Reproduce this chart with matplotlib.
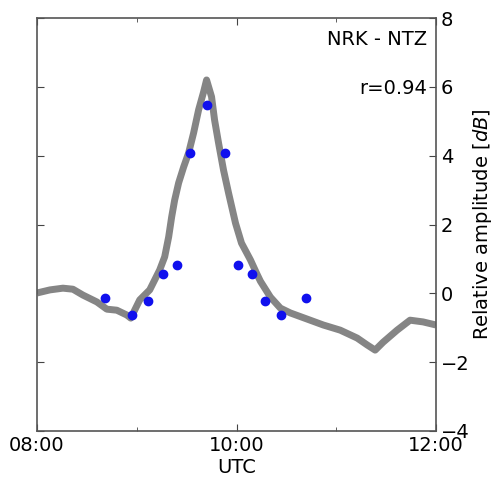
import matplotlib
matplotlib.use("Agg")
import matplotlib.pyplot as plt
from matplotlib.ticker import FixedLocator, FuncFormatter

# ==================== Data ====================
band_t = [8.00, 8.13, 8.26, 8.36, 8.46, 8.60, 8.70, 8.80, 8.90, 8.94, 9.03,
          9.13, 9.23, 9.28, 9.32, 9.35, 9.38, 9.42, 9.47, 9.52, 9.57, 9.62,
          9.67, 9.70, 9.75, 9.78, 9.82, 9.87, 9.92, 9.99, 10.05, 10.14, 10.20,
          10.24, 10.34, 10.44, 10.54, 10.71, 10.87, 11.04, 11.21, 11.31, 11.39,
          11.47, 11.61, 11.74, 11.87, 12.00]
band_db = [0.01, 0.10, 0.15, 0.12, -0.05, -0.25, -0.46, -0.49, -0.63, -0.72, -0.19,
           0.10, 0.68, 1.06, 1.64, 2.22, 2.71, 3.21, 3.67, 4.08, 4.66, 5.33,
           5.85, 6.20, 5.71, 5.04, 4.37, 3.58, 2.92, 2.04, 1.46, 0.97, 0.59,
           0.35, -0.11, -0.43, -0.57, -0.75, -0.92, -1.07, -1.30, -1.50, -1.65,
           -1.42, -1.07, -0.78, -0.83, -0.92]

# Blue points (model)
model_t = [8.68, 8.95, 9.11, 9.26, 9.40, 9.53, 9.70, 9.88, 10.02, 10.16, 10.29, 10.45, 10.70]
model_db = [-0.14, -0.63, -0.22, 0.56, 0.82, 4.08, 5.47, 4.08, 0.82, 0.56, -0.22, -0.64, -0.14]

station_pair = "NRK - NTZ"
corr_text = "r=0.94"

# ==================== Figure ====================
fig = plt.figure(figsize=(4.94, 4.79), dpi=100)
ax = fig.add_axes([37 / 494, 48 / 479, 399 / 494, 413 / 479])

ax.plot(band_t, band_db, color="#858585", lw=5, solid_joinstyle="round",
        solid_capstyle="butt", zorder=2)
ax.plot(model_t, model_db, "o", color="#1010ee", markeredgecolor="#1010ee",
        markersize=6, zorder=3)

ax.set_xlim(8, 12)
ax.set_ylim(-4, 8)
ax.xaxis.set_major_locator(FixedLocator([8, 10, 12]))
ax.xaxis.set_minor_locator(FixedLocator([9, 11]))
ax.xaxis.set_major_formatter(FuncFormatter(lambda v, p: "%02d:00" % int(round(v))))
ax.set_yticks([-4, -2, 0, 2, 4, 6, 8])

ax.yaxis.tick_right()
ax.yaxis.set_label_position("right")
ax.tick_params(which="both", direction="in", top=True, left=True, right=True,
               labelsize=14, color="#444444")
ax.tick_params(which="major", length=5)
ax.tick_params(which="minor", length=3)
for s in ax.spines.values():
    s.set_color("#555555")
    s.set_linewidth(1.2)

ax.set_xlabel("UTC", fontsize=14, labelpad=2)
ax.set_ylabel("Relative amplitude [$dB$]", fontsize=14, labelpad=1)

ax.text(0.977, 0.947, station_pair, transform=ax.transAxes, ha="right",
        va="center", fontsize=14)
ax.text(0.977, 0.83, corr_text, transform=ax.transAxes, ha="right",
        va="center", fontsize=14)

fig.savefig("out.png", dpi=100)
